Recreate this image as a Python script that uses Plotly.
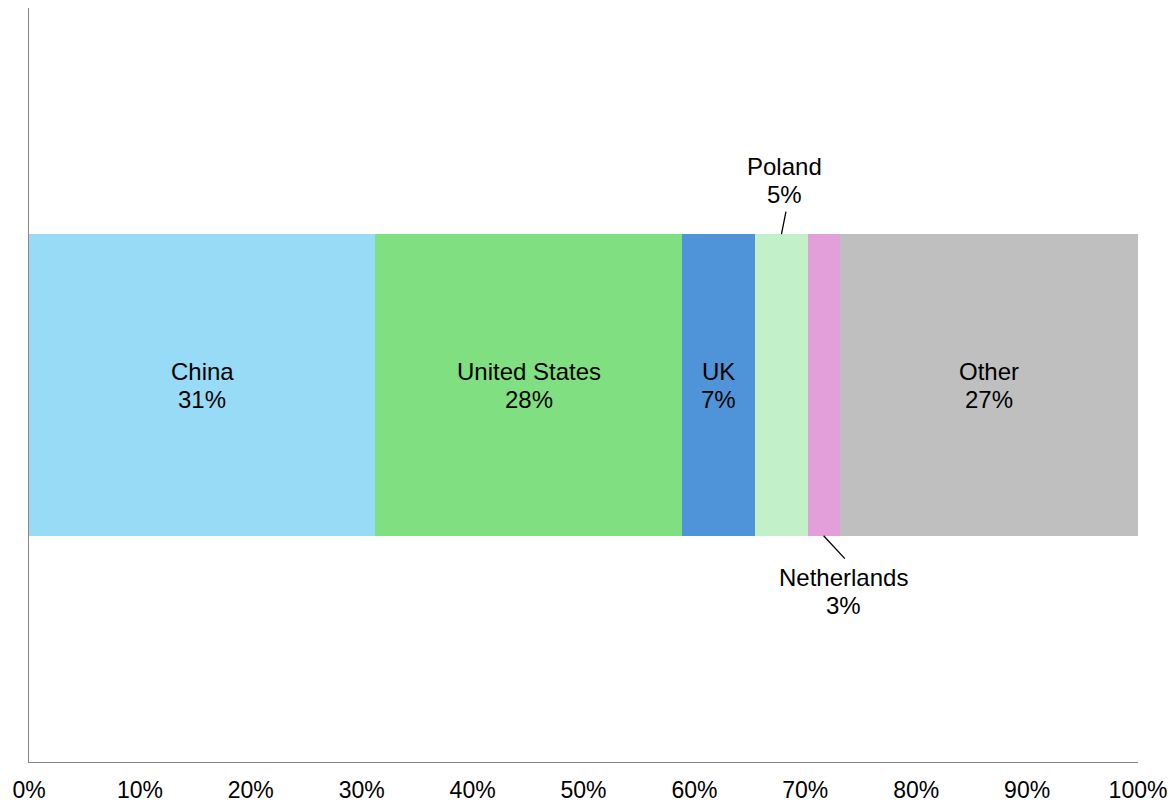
import plotly.graph_objects as go

# Share of total by country (percent)
countries = ["China", "United States", "UK", "Poland", "Netherlands", "Other"]
shares = [31.2, 27.7, 6.6, 4.7, 2.9, 26.9]
colors = ["#97dbf7", "#80df80", "#4f94d8", "#c2f0c8", "#e39fda", "#bfbfbf"]

FONT = "Liberation Sans, Arial, sans-serif"
FSIZE = 24
TICKSIZE = 23
LINE_GAP = 14  # half the distance between the two label lines, px

# Label placement per segment: (xshift, yshift of the label centre) in px,
# plus an optional leader line (ax, ay, bar edge) for the narrow segments
label_pos = {
    "China": (0, 0), "United States": (0, 0), "UK": (0, 0), "Other": (0, 0),
    "Poland": (3, 205), "Netherlands": (20, -206),
}
leaders = {"Poland": (4.6, -23, 0.2), "Netherlands": (21.7, 23.3, -0.2)}

fig = go.Figure()
for name, val, col in zip(countries, shares, colors):
    fig.add_trace(go.Bar(
        x=[val], y=[0], orientation="h", name=name,
        marker=dict(color=col, line=dict(width=0)),
        width=0.4, hoverinfo="skip",
    ))

starts = [sum(shares[:i]) for i in range(len(shares))]
for i, name in enumerate(countries):
    mid = starts[i] + shares[i] / 2
    xs, ys = label_pos[name]
    for line, dy in ((name, LINE_GAP), (f"{shares[i]:.0f}%", -LINE_GAP)):
        fig.add_annotation(
            x=mid, y=0, xref="x", yref="y", text=line, showarrow=False,
            xanchor="center", yanchor="middle", xshift=xs, yshift=ys + dy,
            font=dict(family=FONT, size=FSIZE, color="#000000"),
        )
    if name in leaders:
        ax, ay, edge = leaders[name]
        fig.add_annotation(
            x=mid, y=edge, xref="x", yref="y", text="", showarrow=True,
            arrowhead=0, arrowwidth=1.3, arrowcolor="#000000",
            ax=ax, ay=ay, borderpad=0, font=dict(size=1),
        )

fig.update_layout(
    barmode="stack",
    width=1176, height=803,
    margin=dict(l=29, r=38, t=8, b=41),
    paper_bgcolor="white", plot_bgcolor="white",
    showlegend=False,
    font=dict(family=FONT, size=FSIZE, color="#000000"),
    xaxis=dict(
        range=[0, 100], dtick=10, ticksuffix="%",
        showline=True, linecolor="#868686", linewidth=1,
        showgrid=False, zeroline=False, ticks="",
        automargin=False, ticklabelstandoff=7,
        tickfont=dict(family=FONT, size=TICKSIZE, color="#000000"),
    ),
    yaxis=dict(
        range=[-0.5, 0.5], showticklabels=False,
        showline=True, linecolor="#868686", linewidth=1,
        showgrid=False, zeroline=False, ticks="", automargin=False,
    ),
)

fig.write_html("out.html")
